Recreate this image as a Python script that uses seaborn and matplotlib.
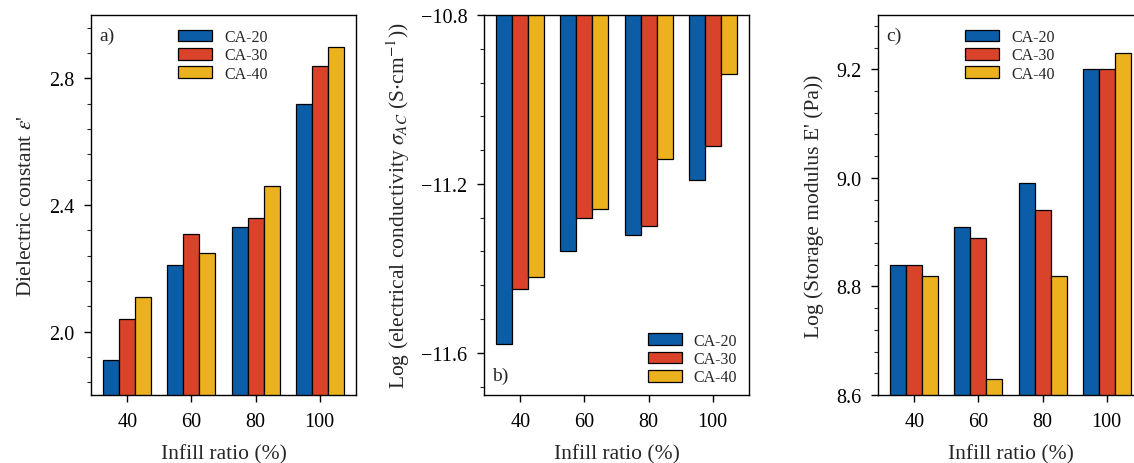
import pandas as pd
import matplotlib.pyplot as plt
import seaborn as sns
from matplotlib.ticker import MultipleLocator, AutoMinorLocator
from matplotlib.patches import Patch

#data
infill = ['40', '60', '80', '100']
samples = ['CA-20', 'CA-30', 'CA-40']

dielectric_ca20 = [1.91, 2.21, 2.33, 2.72]
dielectric_ca30 = [2.04, 2.31, 2.36, 2.84]
dielectric_ca40 = [2.11, 2.25, 2.46, 2.90]

conduct_ca20 = [-11.58, -11.36, -11.32, -11.19]
conduct_ca30 = [-11.45, -11.28, -11.30, -11.11]
conduct_ca40 = [-11.42, -11.26, -11.14, -10.94]

storage_ca20 = [8.84, 8.91, 8.99, 9.20]
storage_ca30 = [8.84, 8.89, 8.94, 9.20]
storage_ca40 = [8.82, 8.63, 8.82, 9.23]

colors = ['#0A5DA6', '#D8432A', '#EBB11F']


def long_df(a, b, c):
    rows = []
    for s, vals in zip(samples, [a, b, c]):
        for x, v in zip(infill, vals):
            rows.append({'Infill': x, 'Sample': s, 'Value': v})
    return pd.DataFrame(rows)


sns.set_style('ticks')
plt.rcParams['font.family'] = ['Liberation Serif', 'DejaVu Serif']
plt.rcParams['mathtext.fontset'] = 'stix'
plt.rcParams['axes.linewidth'] = 1.0

fig = plt.figure(figsize=(11.34, 4.64), dpi=100)
W, H = 1134, 464
ax_w, ax_h = 265 / W, 380 / H
bottom = (H - 396) / H
ax_a = fig.add_axes([91 / W, bottom, ax_w, ax_h])
ax_b = fig.add_axes([484 / W, bottom, ax_w, ax_h])
ax_c = fig.add_axes([878 / W, bottom, ax_w, ax_h])

panels = [
    (ax_a, long_df(dielectric_ca20, dielectric_ca30, dielectric_ca40),
     (1.8, 3.0), 0.4, "Dielectric constant $\\varepsilon$'", 'a)', 9.5),
    (ax_b, long_df(conduct_ca20, conduct_ca30, conduct_ca40),
     (-11.7, -10.8), 0.4,
     "Log (electrical conductivity $\\sigma_{AC}$ (S$\\cdot$cm$^{-1}$))", 'b)', 6.5),
    (ax_c, long_df(storage_ca20, storage_ca30, storage_ca40),
     (8.6, 9.3), 0.2, "Log (Storage modulus E' (Pa))", 'c)', 9),
]

handles = [Patch(facecolor=c, edgecolor='black', linewidth=0.9) for c in colors]

for ax, df, ylim, major, ylabel, tag, ypad in panels:
    sns.barplot(data=df, x='Infill', y='Value', hue='Sample', order=infill,
                hue_order=samples, palette=colors, edgecolor='black',
                linewidth=0.9, width=0.75, saturation=1, legend=False, ax=ax)
    ax.set_ylim(*ylim)
    ax.set_xlim(-0.57, 3.57)
    ax.yaxis.set_major_locator(MultipleLocator(major))
    ax.yaxis.set_minor_locator(AutoMinorLocator(5))
    ax.tick_params(axis='both', which='major', labelsize=14.5, length=5,
                   width=1, pad=7, direction='out', colors='black')
    ax.tick_params(axis='y', which='minor', length=3, width=0.8)
    ax.set_xlabel('Infill ratio (%)', fontsize=15.5, labelpad=10)
    ax.set_ylabel(ylabel, fontsize=15.5, labelpad=ypad)
    for sp in ax.spines.values():
        sp.set_visible(True)
        sp.set_color('black')
    if tag == 'b)':
        ax.text(0.03, 0.03, tag, transform=ax.transAxes, fontsize=14,
                ha='left', va='bottom')
        ax.legend(handles, samples, loc='lower right',
                  bbox_to_anchor=(0.955, 0.025), frameon=False, fontsize=11.5,
                  handlelength=2.1, handleheight=0.75, labelspacing=0.15,
                  handletextpad=0.75, borderpad=0, borderaxespad=0)
    else:
        ax.text(0.03, 0.97, tag, transform=ax.transAxes, fontsize=14,
                ha='left', va='top')
        ax.legend(handles, samples, loc='upper left',
                  bbox_to_anchor=(0.33, 0.963), frameon=False, fontsize=11.5,
                  handlelength=2.1, handleheight=0.75, labelspacing=0.15,
                  handletextpad=0.75, borderpad=0, borderaxespad=0)

fig.savefig('out.png', dpi=100)
